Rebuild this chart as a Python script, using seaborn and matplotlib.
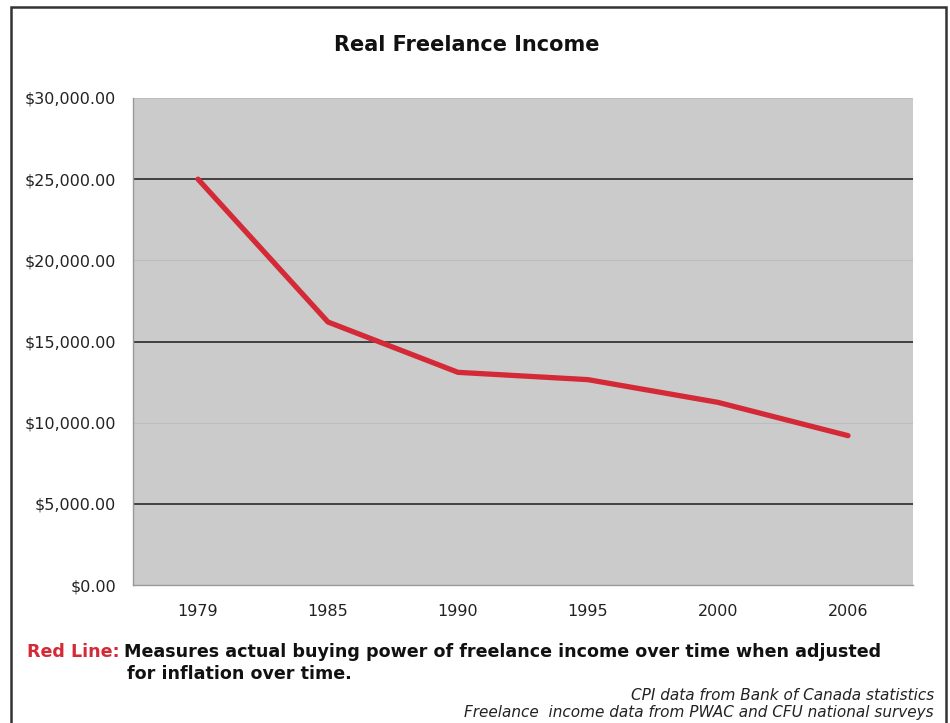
import matplotlib
matplotlib.use("Agg")
import matplotlib.pyplot as plt
from matplotlib.patches import Rectangle
from matplotlib.ticker import FuncFormatter, FixedLocator
import seaborn as sns
import pandas as pd
import numpy as np

years = ["1979", "1985", "1990", "1995", "2000", "2006"]
income = [25000, 16200, 13100, 12650, 11250, 9200]
y_ticks = [0, 5000, 10000, 15000, 20000, 25000, 30000]

title = "Real Freelance Income"
note_red = "Red Line:"
note_line1 = "Measures actual buying power of freelance income over time when adjusted"
note_line2 = "for inflation over time."
source1 = "CPI data from Bank of Canada statistics"
source2 = "Freelance  income data from PWAC and CFU national surveys"

df = pd.DataFrame({"year": years, "income": income})

sns.set_style("white")
plt.rcParams["font.family"] = ["DejaVu Sans"]

W, H = 950, 723
fig = plt.figure(figsize=(W / 100, H / 100), dpi=100)
ax = fig.add_axes([133/W, 1-585/H, (913-133)/W, (585-98)/H])
ax.set_facecolor("#cbcbcb")

sns.lineplot(data=df, x="year", y="income", ax=ax, color="#d42a37",
             linewidth=3.8, sort=False, zorder=3)

ax.set_xlim(-0.5, len(years) - 0.5)
ax.set_ylim(0, 30000)
ax.set_yticks(y_ticks)
ax.yaxis.set_major_formatter(FuncFormatter(lambda v, p: f"${v:,.2f}"))
ax.set_xlabel("")
ax.set_ylabel("")

# gridlines: dark at 5k,15k,25k; faint at others
ax.grid(axis="y", which="major", zorder=1)
for val, gl, tk in zip(y_ticks, ax.get_ygridlines(), ax.yaxis.get_major_ticks()):
    dark = (val // 5000) % 2 == 1
    gl.set_color("#2a2a2a" if dark else "#bdbdbd")
    gl.set_linewidth(1.2 if dark else 0.8)
    tk.tick1line.set_color("#2a2a2a" if dark else "#a0a0a0")
ax.tick_params(axis="y", length=6, width=1, direction="out", pad=6,
               labelsize=11.5, labelcolor="#222222")

ax.xaxis.set_minor_locator(FixedLocator(np.arange(-0.5, len(years), 1.0)))
ax.tick_params(axis="x", which="major", length=0, pad=14, labelsize=11.5,
               labelcolor="#222222")
ax.tick_params(axis="x", which="minor", length=6, width=1, color="#555555",
               direction="out")

for side in ["top", "right"]:
    ax.spines[side].set_visible(False)
ax.spines["left"].set_color("#999999")
ax.spines["bottom"].set_color("#999999")
ax.spines["left"].set_linewidth(1)
ax.spines["bottom"].set_linewidth(1)

fig.text(467/W, 1-45/H, title, ha="center", va="center",
         fontsize=15, fontweight="bold", color="#111111")

fig.text(27/W, 1-652/H, note_red, ha="left", va="center",
         fontsize=12.6, fontweight="bold", color="#d42a37")
fig.text(124/W, 1-652/H, note_line1, ha="left", va="center",
         fontsize=12.6, fontweight="bold", color="#111111")
fig.text(127/W, 1-674/H, note_line2, ha="left", va="center",
         fontsize=12.6, fontweight="bold", color="#111111")

fig.text(934/W, 1-695/H, source1, ha="right", va="center",
         fontsize=11, style="italic", color="#222222")
fig.text(934/W, 1-712/H, source2, ha="right", va="center",
         fontsize=11, style="italic", color="#222222")

fig.patches.append(Rectangle((11/W, -0.05), (946-11)/W, 1.05 - 7/H,
                             transform=fig.transFigure, fill=False,
                             edgecolor="#333333", linewidth=1.8))

fig.savefig("out.png", dpi=100, facecolor="white")
